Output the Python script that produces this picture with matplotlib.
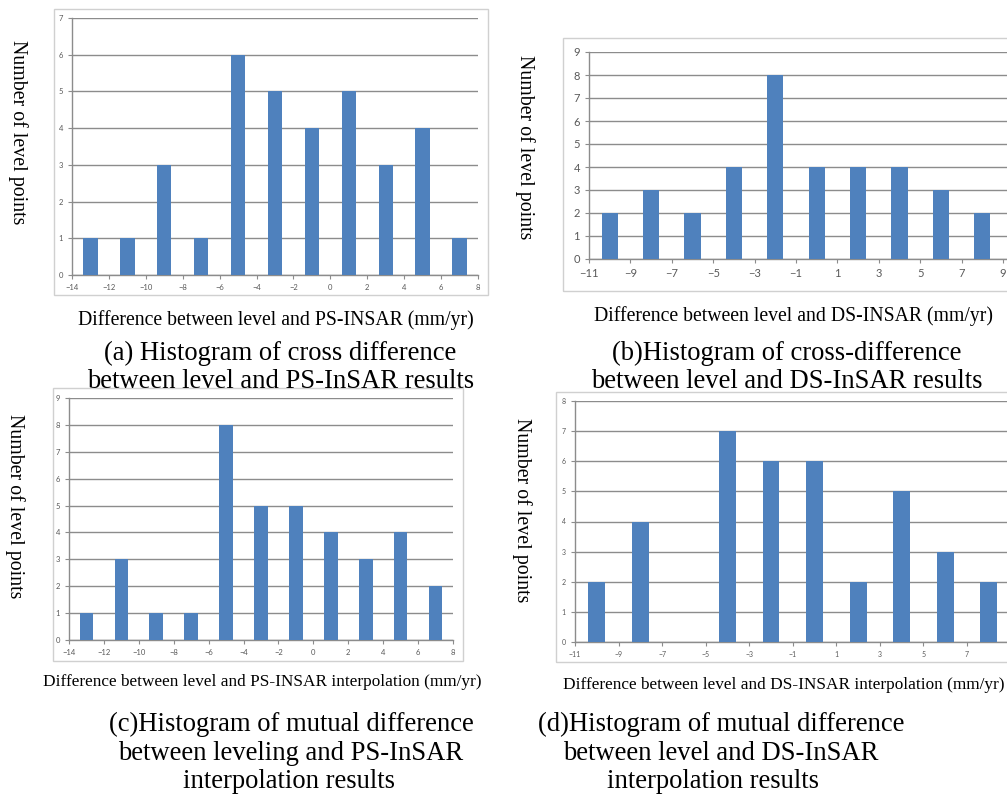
import numpy as np
import matplotlib
matplotlib.use("Agg")
import matplotlib.pyplot as plt
from matplotlib.patches import Rectangle

# ---------------- data ----------------
a_centers = [-13, -11, -9, -7, -5, -3, -1, 1, 3, 5, 7]
a_counts = [1, 1, 3, 1, 6, 5, 4, 5, 3, 4, 1]
a_xticks = list(range(-14, 9, 2))
a_yticks = list(range(0, 8))

b_centers = [-10, -8, -6, -4, -2, 0, 2, 4, 6, 8]
b_counts = [2, 3, 2, 4, 8, 4, 4, 4, 3, 2]
b_xticks = list(range(-11, 10, 2))
b_yticks = list(range(0, 10))

c_centers = [-13, -11, -9, -7, -5, -3, -1, 1, 3, 5, 7]
c_counts = [1, 3, 1, 1, 8, 5, 5, 4, 3, 4, 2]
c_xticks = list(range(-14, 9, 2))
c_yticks = list(range(0, 10))

d_centers = [-10, -8, -6, -4, -2, 0, 2, 4, 6, 8]
d_counts = [2, 4, 0, 7, 6, 6, 2, 5, 3, 2]
d_xticks = list(range(-11, 8, 2))
d_yticks = list(range(0, 9))

ylabel_text = "Number of level points"
a_xlabel = "Difference between level and PS-INSAR (mm/yr)"
b_xlabel = "Difference between level and DS-INSAR (mm/yr)"
c_xlabel = "Difference between level and PS-INSAR interpolation (mm/yr)"
d_xlabel = "Difference between level and DS-INSAR interpolation (mm/yr)"
a_caption = ["(a) Histogram of cross difference", "between level and PS-InSAR results"]
b_caption = ["(b)Histogram of cross-difference", "between level and DS-InSAR results"]
c_caption = ["(c)Histogram of mutual difference", "between leveling and PS-InSAR", "interpolation results"]
d_caption = ["(d)Histogram of mutual difference", "between level and DS-InSAR", "interpolation results"]

# ---------------- style ----------------
W, H = 1007, 795
DPI = 100
BAR = "#4F81BD"
GRID = "#8C8C8C"
TICKC = "#595959"
BOX = "#D0D0D0"
SERIF = ["Liberation Serif", "DejaVu Serif"]
SANS = ["Lato", "DejaVu Sans"]

fig = plt.figure(figsize=(W / DPI, H / DPI), dpi=DPI)
fig.patch.set_facecolor("white")


def px_axes(left, top, right, bottom):
    return fig.add_axes([left / W, 1 - bottom / H, (right - left) / W, (bottom - top) / H])


def box(left, top, right, bottom):
    fig.add_artist(Rectangle((left / W, 1 - bottom / H), (right - left) / W, (bottom - top) / H,
                             transform=fig.transFigure, fill=False, edgecolor=BOX, lw=1.0))


def ftext(x, y, s, size, **kw):
    fig.text(x / W, 1 - y / H, s, fontsize=size, family=SERIF, ha="center", va="center", **kw)


def panel(ax, centers, counts, xticks, yticks, xlim, tsize, width=0.78):
    ax.set_xlim(*xlim)
    ax.set_ylim(yticks[0], yticks[-1])
    ax.set_yticks(yticks)
    ax.set_xticks(xticks)
    ax.grid(axis="y", color=GRID, lw=1.0)
    ax.set_axisbelow(True)
    ax.bar(centers, counts, width=width, color=BAR, zorder=3)
    for s in ["top", "right"]:
        ax.spines[s].set_visible(False)
    for s in ["left", "bottom"]:
        ax.spines[s].set_color(GRID)
        ax.spines[s].set_linewidth(1.0)
    ax.tick_params(axis="both", colors=GRID, labelcolor=TICKC, labelsize=tsize,
                   length=3, width=0.8, direction="out")
    for lab in ax.get_xticklabels() + ax.get_yticklabels():
        lab.set_family(SANS)
    ax.patch.set_alpha(0)


# ---- (a)
box(54, 9, 488, 295)
ax_a = px_axes(72, 18, 478, 275)
panel(ax_a, a_centers, a_counts, a_xticks, a_yticks, (-14, 8), 5.5)
ftext(18, 132, ylabel_text, 14.3, rotation=270)
ftext(276, 320, a_xlabel, 14.2)
ftext(280, 353, a_caption[0], 19.2)
ftext(281, 382, a_caption[1], 19.2)

# ---- (b)
box(563, 38, 1030, 291)
ax_b = px_axes(589, 52, 1007, 259)
panel(ax_b, b_centers, b_counts, b_xticks, b_yticks, (-11, -11 + 20 * (1007 - 589) / (1003 - 589)), 8.0)
ftext(525, 147, ylabel_text, 14.3, rotation=270)
ftext(794, 316, b_xlabel, 14.2)
ftext(787, 353, b_caption[0], 19.2)
ftext(787, 382, b_caption[1], 19.2)

# ---- (c)
box(53, 388, 463, 661)
ax_c = px_axes(69, 398, 453, 640)
panel(ax_c, c_centers, c_counts, c_xticks, c_yticks, (-14, 8), 5.5)
ftext(15, 506, ylabel_text, 14.3, rotation=270)
ftext(262, 682, c_xlabel, 12.4)
ftext(291, 724, c_caption[0], 19.2)
ftext(291, 753, c_caption[1], 19.2)
ftext(289, 782, c_caption[2], 19.2)

# ---- (d)
box(556, 392, 1030, 662)
ax_d = px_axes(575, 401, 1007, 642)
panel(ax_d, d_centers, d_counts, d_xticks, d_yticks, (-11, -11 + 18 * (1007 - 575) / (967 - 575)), 5.0)
ftext(522, 510, ylabel_text, 14.3, rotation=270)
ftext(784, 685, d_xlabel, 12.4)
ftext(721, 724, d_caption[0], 19.2)
ftext(721, 753, d_caption[1], 19.2)
ftext(713, 782, d_caption[2], 19.2)

fig.savefig("out.png", dpi=DPI)
